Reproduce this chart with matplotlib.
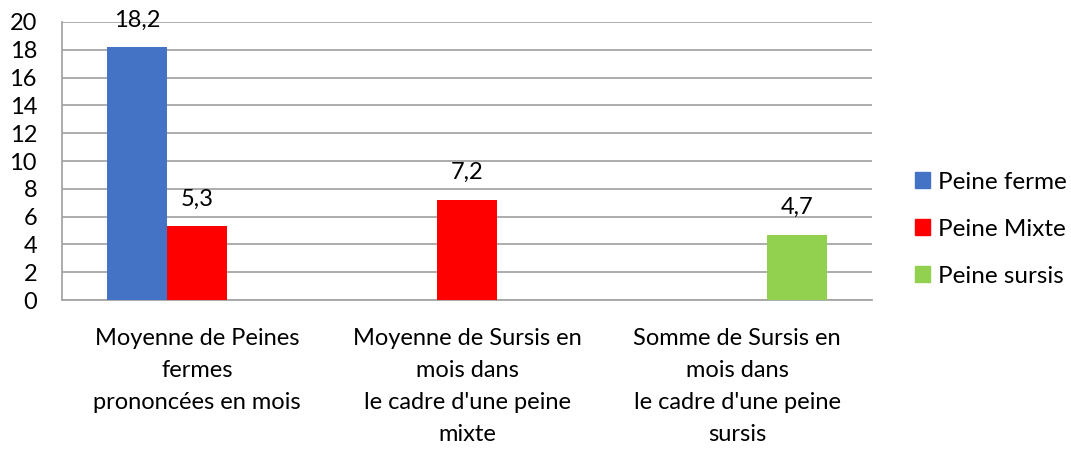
import numpy as np
import matplotlib.pyplot as plt
from matplotlib.patches import Patch

plt.rcParams['font.family'] = ['Lato', 'DejaVu Sans']

categories = [
    "Moyenne de Peines\nfermes\nprononcées en mois",
    "Moyenne de Sursis en\nmois dans\nle cadre d'une peine\nmixte",
    "Somme de Sursis en\nmois dans\nle cadre d'une peine\nsursis",
]
series_names = ["Peine ferme", "Peine Mixte", "Peine sursis"]
peine_ferme = [18.2, np.nan, np.nan]
peine_mixte = [5.3, 7.2, np.nan]
peine_sursis = [np.nan, np.nan, 4.7]
colors = ["#4472C4", "#FF0000", "#92D050"]

fig = plt.figure(figsize=(10.71, 4.61), dpi=100)
ax = fig.add_axes([0.0579, 0.3492, 0.7563, 0.6031])

x = np.arange(len(categories))
width = 0.222
for i, (vals, name, col) in enumerate(zip([peine_ferme, peine_mixte, peine_sursis], series_names, colors)):
    pos = x + (i - 1) * width
    ax.bar(pos, vals, width, color=col, label=name, zorder=3)
    for p, v in zip(pos, vals):
        if not np.isnan(v):
            ax.annotate(f"{v:.1f}".replace(".", ","), (p, v), xytext=(0, 12),
                        textcoords="offset points", ha="center", va="bottom",
                        fontsize=17, color="#000000")

ax.set_xlim(-0.5, 2.5)
ax.set_ylim(0, 20)
ax.set_yticks(range(0, 21, 2))
ax.grid(axis="y", color="#a6a6a6", linewidth=1.3, zorder=0)
for side in ["top", "right"]:
    ax.spines[side].set_visible(False)
ax.spines["left"].set_color("#a6a6a6")
ax.spines["left"].set_linewidth(1.3)
ax.spines["bottom"].set_color("#a6a6a6")
ax.spines["bottom"].set_linewidth(1.3)

ax.set_xticks(x)
ax.set_xticklabels(categories, fontsize=17, linespacing=1.66, va="top")
ax.tick_params(axis="x", length=0, pad=20)
ax.tick_params(axis="y", length=0, pad=18, labelsize=17)

handles = [Patch(color=c, label=n) for c, n in zip(colors, series_names)]
fig.legend(handles=handles, loc="center left", bbox_to_anchor=(0.8543, 0.503),
           frameon=False, fontsize=17.5, handlelength=0.62, handleheight=0.62,
           handletextpad=0.33, labelspacing=1.07, borderpad=0, borderaxespad=0)

fig.savefig("out.png", dpi=100)
